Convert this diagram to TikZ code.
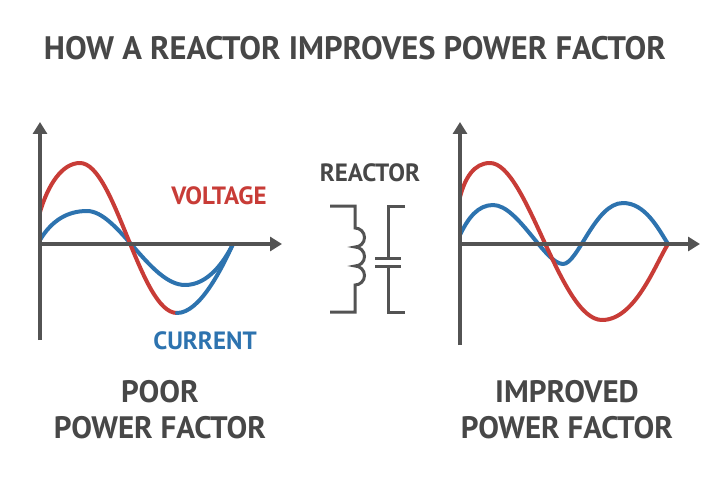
\documentclass[tikz,border=0pt]{standalone}
\usepackage{fontspec}
\setmainfont{PT Sans}
\usetikzlibrary{arrows.meta}
\begin{document}
\begin{tikzpicture}[x=1pt,y=-1pt,
  ax/.style={line width=3.6pt,draw=gray!20!black!75,-{Triangle[length=12pt,width=14pt]}},
  red/.style={line width=4pt,draw={rgb,255:red,200;green,60;blue,55},line cap=round,line join=round},
  blu/.style={line width=4pt,draw={rgb,255:red,45;green,115;blue,175},line cap=round,line join=round},
  sym/.style={line width=3pt,draw=gray!20!black!75,line join=miter},
  txt/.style={font=\bfseries\fontsize{25}{28}\selectfont,text=gray!20!black!80,align=center}]
\useasboundingbox (0,0) rectangle (720,500);
\node[txt,font=\bfseries\fontsize{32.5}{36}\selectfont] (title) at (355,48) {HOW A REACTOR IMPROVES POWER FACTOR};
% left graph
\coordinate (lo) at (40,244);
\coordinate (ly) at (40,122); \coordinate (lyb) at (40,340);
\coordinate (lx) at (282,244);
\draw[blu] (40,240) .. controls (52,220) and (68,211) .. (87,211) .. controls (118,211) and (150,285) .. (185,285) .. controls (208,285) and (224,262) .. (233,244);
\draw[red] (40,212) .. controls (48,185) and (62,163) .. (80,163) .. controls (115,163) and (140,313) .. (177,313);
\draw[blu] (177,313) .. controls (200,313) and (222,268) .. (233,244);
\draw[ax] (lyb) -- (ly);
\draw[ax] (lo) -- (lx);
\node[txt,text={rgb,255:red,200;green,60;blue,55}] (volt) at (219,196) {VOLTAGE};
\node[txt,text={rgb,255:red,45;green,115;blue,175}] (curr) at (205,341) {CURRENT};
\node[txt,font=\bfseries\fontsize{31}{36}\selectfont] (poor) at (160,410) {POOR\\POWER FACTOR};
% right graph
\coordinate (ro) at (460,244);
\coordinate (ry) at (460,122); \coordinate (ryb) at (460,345);
\coordinate (rx) at (700,244);
\draw[blu] (460,235) .. controls (468,218) and (478,205) .. (493,205) .. controls (518,205) and (545,264) .. (563,264) .. controls (578,264) and (595,203) .. (623,203) .. controls (645,203) and (658,228) .. (668,244);
\draw[red] (460,197) .. controls (465,178) and (474,163) .. (490,163) .. controls (527,163) and (560,320) .. (602,320) .. controls (635,320) and (655,265) .. (668,244);
\draw[ax] (ryb) -- (ry);
\draw[ax] (ro) -- (rx);
\node[txt,font=\bfseries\fontsize{31}{36}\selectfont] (impr) at (567,410) {IMPROVED\\POWER FACTOR};
% reactor
\node[txt] (reac) at (370,173) {REACTOR};
\draw[sym] (330,206) -- (355,206) -- (355,228)
  arc[start angle=-90,end angle=90,radius=9.5] arc[start angle=-90,end angle=90,radius=9.5] arc[start angle=-90,end angle=90,radius=9.5]
  -- (355,312) -- (330,312);
\draw[sym] (405,206) -- (388,206) -- (388,258);
\draw[sym] (375,258) -- (401,258);
\draw[sym] (375,266) -- (401,266);
\draw[sym] (388,266) -- (388,312) -- (405,312);
\end{tikzpicture}
\end{document}
